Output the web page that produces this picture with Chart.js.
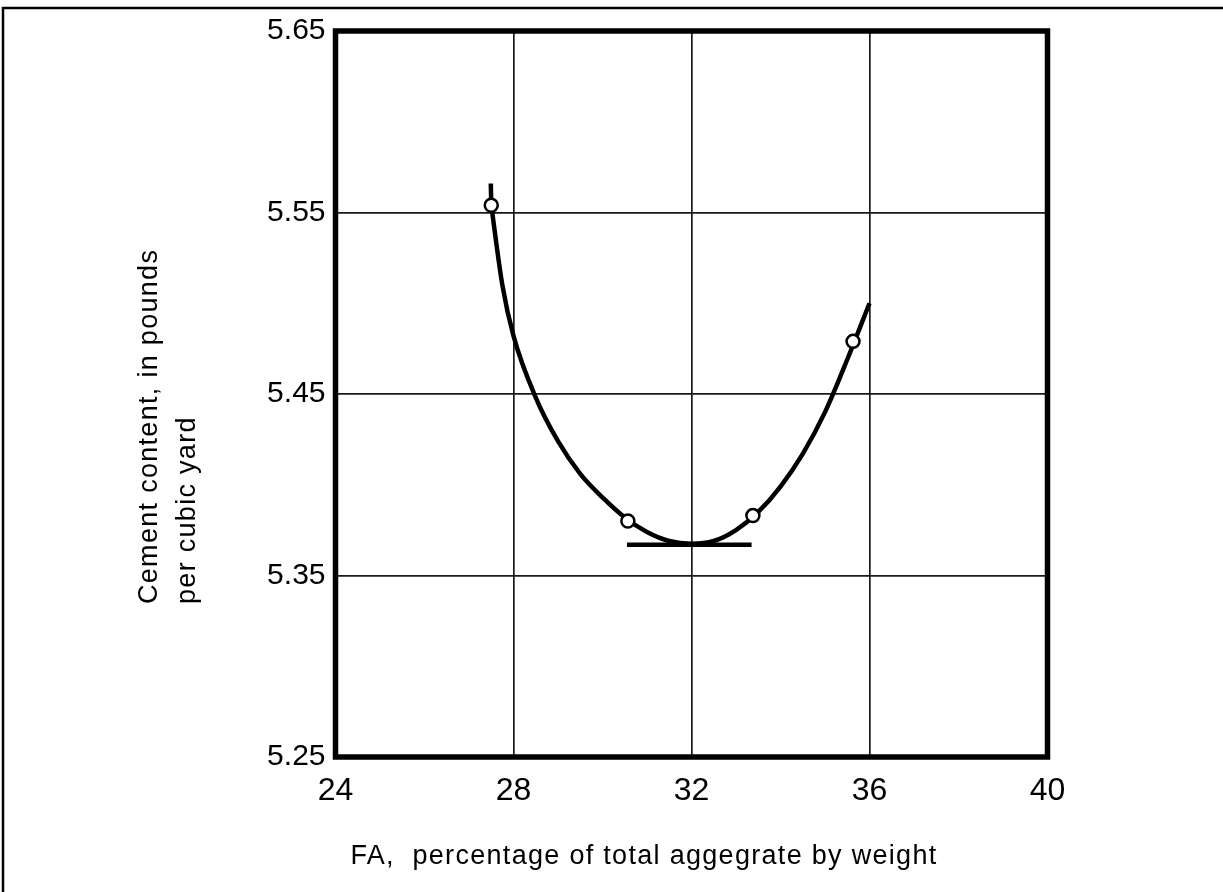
<!DOCTYPE html>
<html>
<head>
<meta charset="utf-8">
<title>Cement content vs FA</title>
<script src="https://cdn.jsdelivr.net/npm/chart.js@4.4.1/dist/chart.umd.min.js"></script>
<style>
    html, body { margin: 0; padding: 0; background: #fff; }
    canvas { display: block; }
</style>
</head>
<body>
<canvas id="cementChart" width="1223" height="892"></canvas>
<script>
// fitted curve at even FA steps
const curveFA = [27.5, 27.75, 28.0, 28.5, 29.0, 29.5, 30.0, 30.5, 31.0, 31.5, 32.0, 32.5, 33.0, 33.5, 34.0, 34.5, 35.0, 35.5, 36.0];
const curveCement = [5.554, 5.510, 5.482, 5.448, 5.424, 5.406, 5.393, 5.382, 5.374, 5.369, 5.3675, 5.369, 5.375, 5.385, 5.399, 5.417, 5.440, 5.469, 5.500];

// test points (open circles)
const pointFA = [27.50, 30.57, 33.38, 35.63];
const pointCement = [5.554, 5.380, 5.383, 5.479];

// short vertical stub above the first point
const stubFA = [27.49, 27.50];
const stubCement = [5.566, 5.554];

// horizontal tangent at the minimum
const tangentFA = [30.55, 33.35];
const tangentCement = [5.367, 5.367];

const xTicks = [24, 28, 32, 36, 40];
const yTicks = [5.25, 5.35, 5.45, 5.55, 5.65];

const xTitle = 'FA,  percentage of total aggegrate by weight';
const yTitle = ['Cement content, in pounds', 'per cubic yard'];

const toXY = (xs, ys) => xs.map((x, i) => ({ x: x, y: ys[i] }));

const framePlugin = {
    id: 'frame',
    beforeDraw(chart) {
        const ctx = chart.ctx;
        ctx.save();
        ctx.fillStyle = '#fff';
        ctx.fillRect(0, 0, chart.width, chart.height);
        // page frame: top and left edges only
        ctx.strokeStyle = '#000';
        ctx.lineWidth = 2.5;
        ctx.beginPath();
        ctx.moveTo(3, chart.height);
        ctx.lineTo(3, 8);
        ctx.lineTo(chart.width, 8);
        ctx.stroke();
        ctx.restore();
    },
    afterDatasetsDraw(chart) {
        const { ctx, chartArea } = chart;
        ctx.save();
        ctx.strokeStyle = '#000';
        ctx.lineWidth = 5.5;
        ctx.strokeRect(chartArea.left, chartArea.top, chartArea.right - chartArea.left, chartArea.bottom - chartArea.top);
        ctx.restore();
    },
    afterDraw(chart) {
        const ctx = chart.ctx;
        ctx.save();
        ctx.fillStyle = '#000';
        ctx.font = '27px "Liberation Sans", Arial, sans-serif';
        ctx.letterSpacing = '1.3px';
        ctx.textBaseline = 'middle';
        ctx.textAlign = 'center';
        ctx.fillText(xTitle, 644, 857);
        ctx.textAlign = 'left';
        [150, 188].forEach((x, i) => {
            ctx.save();
            ctx.translate(x, 604);
            ctx.rotate(-Math.PI / 2);
            ctx.fillText(yTitle[i], 0, 0);
            ctx.restore();
        });
        ctx.restore();
    }
};

document.addEventListener('DOMContentLoaded', () => {
    const ctx = document.getElementById('cementChart').getContext('2d');
    const cementChart = new Chart(ctx, {
        type: 'line',
        data: {
            datasets: [{
                // markers first so they sit on top
                type: 'scatter',
                data: toXY(pointFA, pointCement),
                showLine: false,
                pointRadius: 6.5,
                pointBorderWidth: 2.5,
                pointBackgroundColor: '#fff',
                pointBorderColor: '#000'
            }, {
                data: toXY(curveFA, curveCement),
                borderColor: '#000',
                borderWidth: 4.5,
                pointRadius: 0,
                cubicInterpolationMode: 'monotone'
            }, {
                data: toXY(stubFA, stubCement),
                borderColor: '#000',
                borderWidth: 4.5,
                pointRadius: 0
            }, {
                data: toXY(tangentFA, tangentCement),
                borderColor: '#000',
                borderWidth: 4.5,
                pointRadius: 0
            }]
        },
        options: {
            responsive: false,
            animation: false,
            layout: {
                padding: { left: 0, top: 31, right: 175.5, bottom: 0 }
            },
            plugins: {
                legend: { display: false },
                tooltip: { enabled: false }
            },
            scales: {
                x: {
                    type: 'linear',
                    min: xTicks[0],
                    max: xTicks[xTicks.length - 1],
                    afterBuildTicks: axis => { axis.ticks = xTicks.map(v => ({ value: v })); },
                    afterFit: axis => { axis.height = 135; },
                    border: { display: false },
                    grid: { color: '#1a1a1a', lineWidth: 1.7, drawTicks: false },
                    ticks: {
                        color: '#000',
                        padding: 15,
                        maxRotation: 0,
                        font: { family: '"Liberation Sans", Arial, sans-serif', size: 32 }
                    }
                },
                y: {
                    min: yTicks[0],
                    max: yTicks[yTicks.length - 1],
                    afterBuildTicks: axis => { axis.ticks = yTicks.map(v => ({ value: v })); },
                    afterFit: axis => { axis.width = 335.5; },
                    border: { display: false },
                    grid: { color: '#1a1a1a', lineWidth: 1.7, drawTicks: false },
                    ticks: {
                        color: '#000',
                        padding: 10,
                        callback: v => v.toFixed(2),
                        font: { family: '"Liberation Sans", Arial, sans-serif', size: 30 }
                    }
                }
            }
        },
        plugins: [framePlugin]
    });
});
</script>
</body>
</html>
